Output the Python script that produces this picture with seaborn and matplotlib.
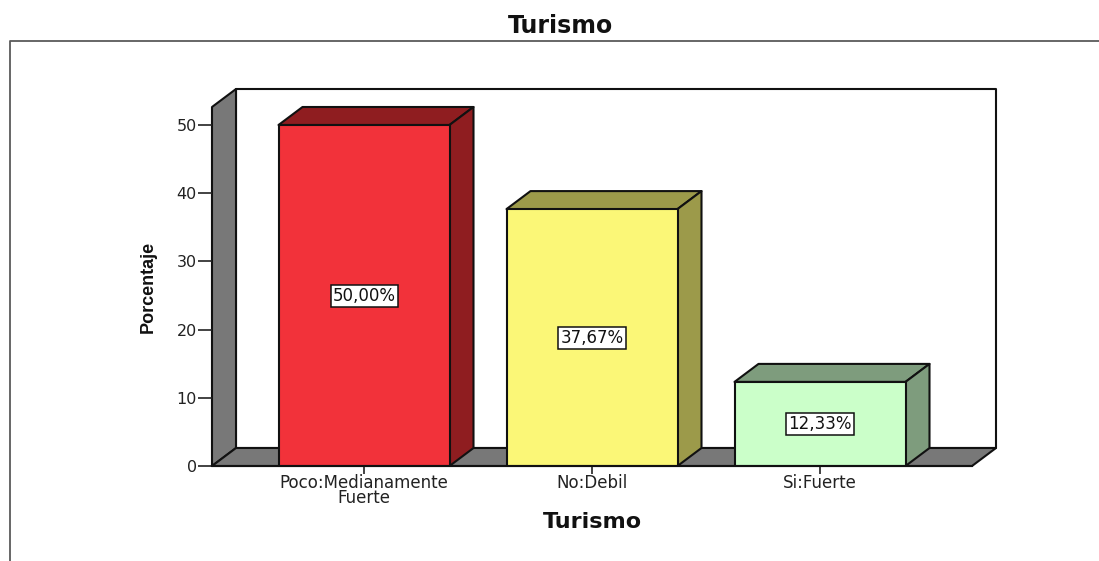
import matplotlib
matplotlib.use("Agg")
import matplotlib.pyplot as plt
from matplotlib.patches import Polygon
from matplotlib.lines import Line2D
import seaborn as sns
import pandas as pd

categories = ["Poco:Medianamente\nFuerte", "No:Debil", "Si:Fuerte"]
values = [50.00, 37.67, 12.33]
value_labels = ["50,00%", "37,67%", "12,33%"]
y_ticks = [0, 10, 20, 30, 40, 50]
front_colors = ["#F2323A", "#FBF777", "#CBFFC9"]
side_colors = ["#8F1D20", "#9C9A4A", "#7E9C7D"]
WALL = "#787878"
W, H = 1099, 561

sns.set_theme(style="white")
plt.rcParams["font.family"] = ["DejaVu Sans"]

fig = plt.figure(figsize=(W / 100, H / 100), dpi=100)
fig.patch.set_facecolor("white")
ax = fig.add_axes([212 / W, 1 - 466 / H, 760 / W, 359 / H])
ax.patch.set_visible(False)

df = pd.DataFrame({"cat": categories, "val": values})
sns.barplot(data=df, x="cat", y="val", hue="cat", palette=front_colors, legend=False,
            width=0.75, edgecolor="#111111", linewidth=1.5, saturation=1, ax=ax)
ax.set_xlim(-2 / 3, 2 + 2 / 3)
ax.set_ylim(0, 359 / 6.82)
x0, x1 = ax.get_xlim()
y0, y1 = ax.get_ylim()
dx = 24 / 228
dy = 18 / 6.82

def face(pts, color, z):
    ax.add_patch(Polygon(pts, closed=True, facecolor=color, edgecolor="#111111",
                         linewidth=1.5, clip_on=False, zorder=z, joinstyle="round"))

# walls and floor
face([(x0 + dx, y0 + dy), (x1 + dx, y0 + dy), (x1 + dx, y1 + dy), (x0 + dx, y1 + dy)], "white", 0.2)
face([(x0, y0), (x0 + dx, y0 + dy), (x0 + dx, y1 + dy), (x0, y1)], WALL, 0.3)
face([(x0, y0), (x0 + dx, y0 + dy), (x1 + dx, y0 + dy), (x1, y0)], WALL, 0.3)

# 3D sides and labels of the bars
for bar, side, text in zip(ax.patches[:3], side_colors, value_labels):
    bar.set_zorder(3)
    a, b = bar.get_x(), bar.get_x() + bar.get_width()
    h = bar.get_height()
    face([(a, h), (b, h), (b + dx, h + dy), (a + dx, h + dy)], side, 2)
    face([(b, 0), (b + dx, dy), (b + dx, h + dy), (b, h)], side, 2)
    ax.text((a + b) / 2, h / 2, text, ha="center", va="center", fontsize=12, color="#111111", zorder=5,
            bbox=dict(boxstyle="square,pad=0.12", facecolor="white", edgecolor="#111111", linewidth=1.1))

for s in ["top", "right", "left"]:
    ax.spines[s].set_visible(False)
ax.spines["bottom"].set_color("#111111")
ax.spines["bottom"].set_linewidth(1.5)
ax.spines["bottom"].set_zorder(4)

ax.set_yticks(y_ticks)
ax.set_xticks(range(len(categories)))
ax.set_xticklabels(categories, linespacing=0.78)
ax.tick_params(axis="y", direction="out", length=10, width=1.2, color="#222222",
               labelsize=11.5, labelcolor="#222222", pad=1, left=True)
ax.tick_params(axis="x", direction="out", length=5.5, width=1.2, color="#222222",
               labelsize=12, labelcolor="#222222", pad=0, bottom=True)
ax.set_xlabel("")
ax.set_ylabel("")

fig.text(561 / W, 1 - 26 / H, "Turismo", ha="center", va="center", fontsize=17, fontweight="bold", color="#111111")
fig.text(592 / W, 1 - 522 / H, "Turismo", ha="center", va="center", fontsize=16, fontweight="bold", color="#111111")
fig.text(148 / W, 1 - 287 / H, "Porcentaje", ha="center", va="center", rotation=90, fontsize=13,
         fontweight="bold", color="#111111", family="Liberation Sans")

fig.add_artist(Line2D([9.5 / W, 9.5 / W, 1], [0, 1 - 40.5 / H, 1 - 40.5 / H], color="#5a5a5a", linewidth=1.3))

fig.savefig("out.png", dpi=100)
